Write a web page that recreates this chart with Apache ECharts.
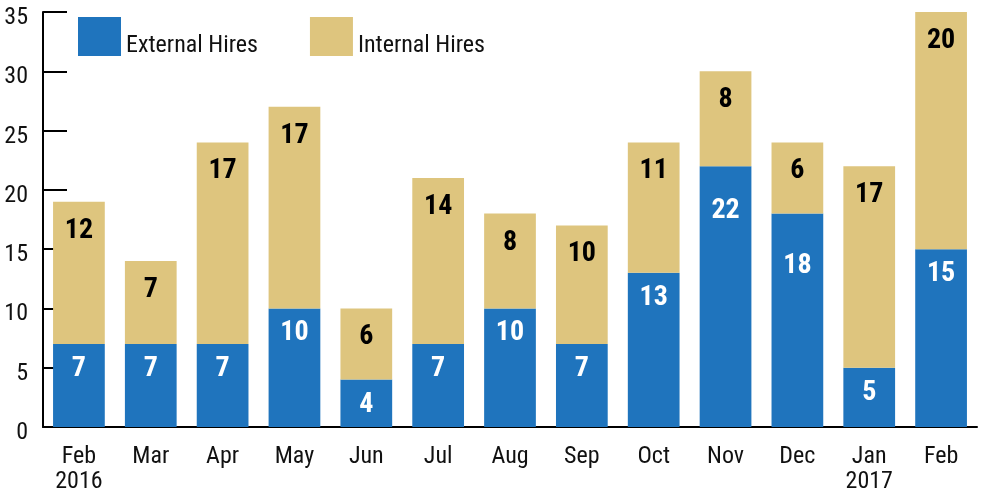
<!DOCTYPE html>
<html lang="en">
<head>
	<meta charset="UTF-8">
	<title>Hires</title>
	<style>
		html, body { margin: 0; padding: 0; background: #fff; }
	</style>
</head>
<body>
	<div id="main" style="width: 983px;height:494px;"></div>
	<script src="https://cdn.jsdelivr.net/npm/echarts@6/dist/echarts.min.js"></script>
	<script>
		// data
		var months = ['Feb\n2016', 'Mar', 'Apr', 'May', 'Jun', 'Jul', 'Aug', 'Sep', 'Oct', 'Nov', 'Dec', 'Jan\n2017', 'Feb'];
		var externalHires = [7, 7, 7, 10, 4, 7, 10, 7, 13, 22, 18, 5, 15];
		var internalHires = [12, 7, 17, 17, 6, 14, 8, 10, 11, 8, 6, 17, 20];

		var font = '"Roboto Condensed", "DejaVu Sans Condensed", sans-serif';
		var blue = '#1f74bd';
		var tan = '#dec57e';

		// a couple of white labels sit lower in the original
		var extraDrop = { 9: 20, 10: 27 };

		var myChart = echarts.init(document.getElementById('main'));

		var extData = externalHires.map(function (v, i) {
			var item = { value: v };
			if (extraDrop[i]) {
				item.label = { offset: [0, extraDrop[i]] };
			}
			return item;
		});

		var option = {
			animation: false,
			grid: { left: 43, right: 6, top: 12, bottom: 67 },
			legend: {
				left: 78,
				top: 17,
				padding: 0,
				itemWidth: 43,
				itemHeight: 39,
				itemGap: 52,
				icon: 'rect',
				formatter: '{t|{name}}',
				textStyle: {
					fontFamily: font, fontSize: 24, color: '#111',
					rich: { t: { fontFamily: font, fontSize: 24, color: '#111', padding: [18, 0, 0, 0] } }
				},
				data: ['External Hires', 'Internal Hires']
			},
			xAxis: {
				type: 'category',
				data: months,
				axisLine: { lineStyle: { color: '#000', width: 2 } },
				axisTick: { inside: true, length: 11, lineStyle: { color: '#000', width: 2 } },
				axisLabel: { fontFamily: font, fontSize: 24, color: '#111', lineHeight: 25, margin: 17 }
			},
			yAxis: {
				type: 'value',
				min: 0,
				max: 35,
				interval: 5,
				splitLine: { show: false },
				axisLine: { show: true, lineStyle: { color: '#000', width: 2 } },
				axisTick: { show: true, inside: true, length: 24, lineStyle: { color: '#000', width: 2 } },
				axisLabel: { fontFamily: font, fontSize: 24, color: '#111', margin: 15, verticalAlign: 'top', lineHeight: 12 }
			},
			series: [{
				name: 'External Hires',
				type: 'bar',
				stack: 'hires',
				barCategoryGap: '28%',
				itemStyle: { color: blue },
				label: {
					show: true,
					position: 'insideTop',
					distance: 11,
					fontFamily: font,
					fontWeight: 'bold',
					fontSize: 28,
					color: '#fff'
				},
				data: extData
			}, {
				name: 'Internal Hires',
				type: 'bar',
				stack: 'hires',
				barCategoryGap: '28%',
				itemStyle: { color: tan },
				label: {
					show: true,
					position: 'insideTop',
					distance: 15,
					fontFamily: font,
					fontWeight: 'bold',
					fontSize: 28,
					color: '#000'
				},
				data: internalHires
			}]
		};

		myChart.setOption(option);
	</script>
</body>
</html>
